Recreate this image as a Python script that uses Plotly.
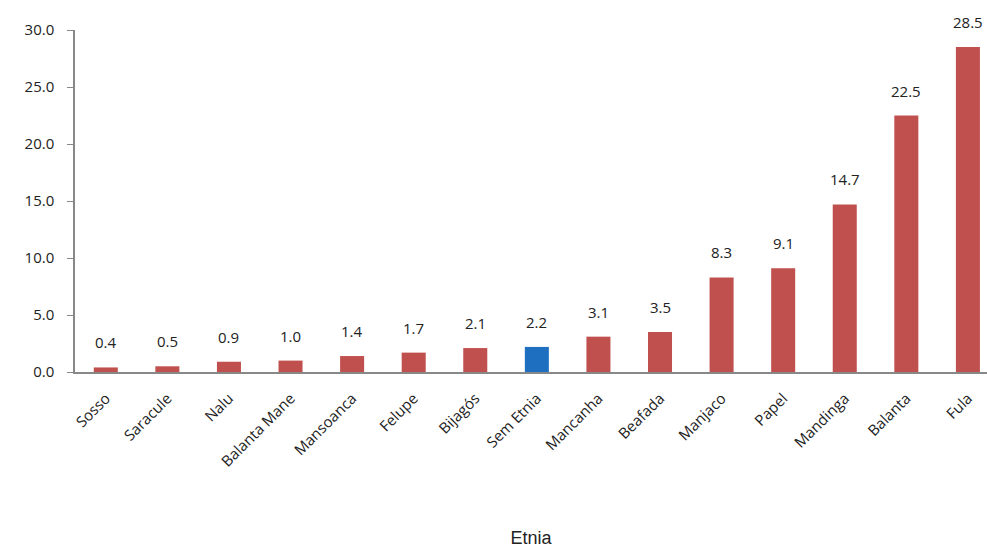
import plotly.graph_objects as go

categories = ["Sosso", "Saracule", "Nalu", "Balanta Mane", "Mansoanca", "Felupe", "Bijagós",
              "Sem Etnia", "Mancanha", "Beafada", "Manjaco", "Papel", "Mandinga", "Balanta", "Fula"]
values = [0.4, 0.5, 0.9, 1.0, 1.4, 1.7, 2.1, 2.2, 3.1, 3.5, 8.3, 9.1, 14.7, 22.5, 28.5]
highlight = "Sem Etnia"

colors = ["#1F6FC1" if c == highlight else "#C0504D" for c in categories]

fig = go.Figure(go.Bar(
    x=categories, y=values,
    marker=dict(color=colors, line=dict(width=0)),
    width=0.39,
    cliponaxis=False,
))

for c, v in zip(categories, values):
    fig.add_annotation(
        x=c, y=v, text=f"{v:.1f}", showarrow=False,
        yanchor="bottom", yshift=13,
        font=dict(family="Open Sans, sans-serif", size=15, color="#222"),
    )

fig.update_layout(
    width=987, height=552,
    margin=dict(l=75, r=0, t=30, b=180),
    plot_bgcolor="white", paper_bgcolor="white",
    showlegend=False,
    font=dict(family="Open Sans, sans-serif", size=15, color="#222"),
    xaxis=dict(
        range=[-0.5, 14.31],
        showline=True, linecolor="#888", linewidth=1.5,
        ticks="", tickangle=-45, ticklabelstandoff=10,
        tickfont=dict(size=15, color="#222"),
        title=dict(text="Etnia", font=dict(family="Liberation Sans, Arial, sans-serif", size=18, color="#222"), standoff=62),
    ),
    yaxis=dict(
        range=[0, 30], tickvals=[0, 5, 10, 15, 20, 25, 30], tickformat=".1f",
        showline=True, linecolor="#888", linewidth=1.5,
        ticks="outside", ticklen=6, tickcolor="#888", ticklabelstandoff=10,
        showgrid=False, zeroline=False,
        tickfont=dict(size=15, color="#222"),
    ),
)

fig.write_html("out.html")
